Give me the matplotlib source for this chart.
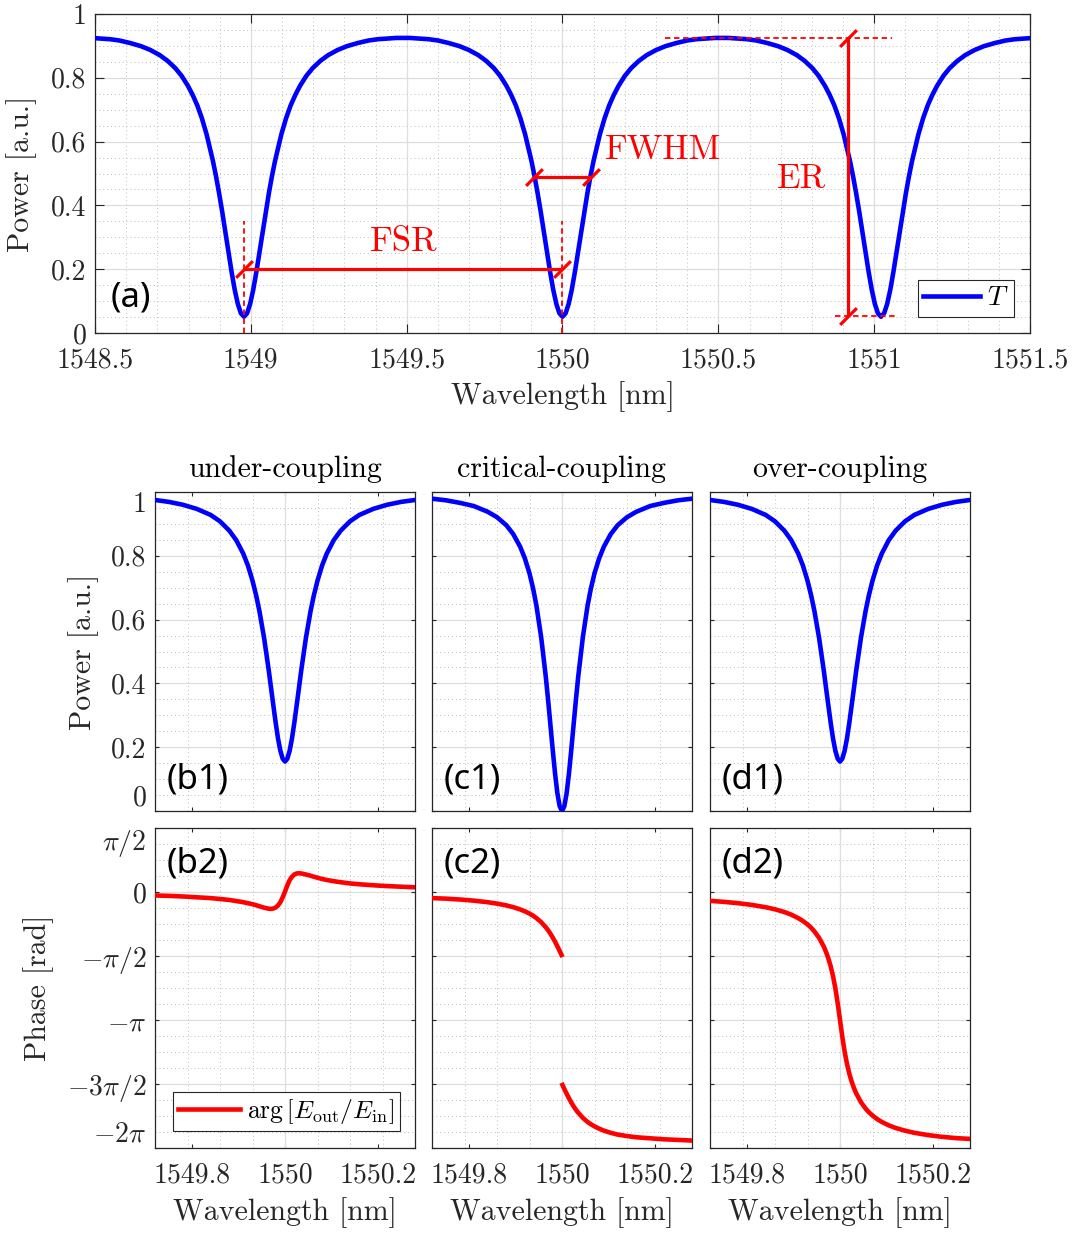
import numpy as np
import matplotlib
matplotlib.use("Agg")
import matplotlib.pyplot as plt
from matplotlib.ticker import MultipleLocator, FixedLocator

plt.rcParams['font.family'] = 'serif'
plt.rcParams['font.serif'] = ['cmr10']
plt.rcParams['mathtext.fontset'] = 'cm'
plt.rcParams['axes.formatter.use_mathtext'] = True

# ---- (a) through-port spectrum: one resonance, found at three dips
dip_centres = [1548.978, 1550.000, 1551.022]
dip_offset = [-0.511, -0.49, -0.46, -0.43, -0.40, -0.365, -0.33, -0.30, -0.27, -0.245,
              -0.22, -0.20, -0.18, -0.165, -0.15, -0.135, -0.12, -0.10, -0.09, -0.08,
              -0.07, -0.06, -0.05, -0.04, -0.03, -0.02, -0.01, 0.0,
              0.01, 0.02, 0.03, 0.04, 0.05, 0.06, 0.07, 0.08, 0.09, 0.10, 0.12, 0.135,
              0.15, 0.165, 0.18, 0.20, 0.22, 0.245, 0.27, 0.30, 0.33, 0.365, 0.40, 0.43,
              0.46, 0.49, 0.511]
dip_power = [0.925, 0.925, 0.923, 0.921, 0.917, 0.909, 0.899, 0.887, 0.871, 0.853,
             0.830, 0.806, 0.775, 0.747, 0.714, 0.673, 0.623, 0.541, 0.493, 0.439,
             0.381, 0.319, 0.255, 0.193, 0.137, 0.092, 0.062, 0.051,
             0.062, 0.092, 0.137, 0.193, 0.255, 0.319, 0.381, 0.439, 0.493, 0.541, 0.623, 0.673,
             0.714, 0.747, 0.775, 0.806, 0.830, 0.853, 0.871, 0.887, 0.899, 0.909, 0.917, 0.921,
             0.923, 0.925, 0.925]
xticks_a = [1548.5, 1549, 1549.5, 1550, 1550.5, 1551, 1551.5]
xticklabels_a = ['1548.5', '1549', '1549.5', '1550', '1550.5', '1551', '1551.5']
yticks_p = [0, 0.2, 0.4, 0.6, 0.8, 1]
yticklabels_p = ['0', '0.2', '0.4', '0.6', '0.8', '1']

# ---- (b)-(d) single resonance around 1550 nm
zoom_centre = 1550.0
zoom_offset = [-0.28, -0.25, -0.22, -0.19, -0.16, -0.14, -0.12, -0.105, -0.09, -0.08,
               -0.07, -0.062, -0.055, -0.045, -0.035, -0.03, -0.025, -0.02, -0.015, -0.01,
               -0.005, 0.0,
               0.005, 0.01, 0.015, 0.02, 0.025, 0.03, 0.035, 0.045, 0.055, 0.062,
               0.07, 0.08, 0.09, 0.105, 0.12, 0.14, 0.16, 0.19, 0.22, 0.25, 0.28]
under_power = [0.975, 0.969, 0.960, 0.947, 0.928, 0.908, 0.879, 0.849, 0.807, 0.770,
               0.722, 0.675, 0.626, 0.542, 0.441, 0.385, 0.330, 0.276, 0.227, 0.189,
               0.164, 0.155,
               0.164, 0.189, 0.227, 0.276, 0.330, 0.385, 0.441, 0.542, 0.626, 0.675,
               0.722, 0.770, 0.807, 0.849, 0.879, 0.908, 0.928, 0.947, 0.960, 0.969, 0.975]
critical_power = [0.979, 0.974, 0.966, 0.956, 0.938, 0.921, 0.896, 0.868, 0.828, 0.792,
                  0.745, 0.696, 0.643, 0.546, 0.422, 0.349, 0.271, 0.192, 0.118, 0.056,
                  0.015, 0.0,
                  0.015, 0.056, 0.118, 0.192, 0.271, 0.349, 0.422, 0.546, 0.643, 0.696,
                  0.745, 0.792, 0.828, 0.868, 0.896, 0.921, 0.938, 0.956, 0.966, 0.974, 0.979]
over_power = [0.975, 0.969, 0.960, 0.947, 0.928, 0.908, 0.879, 0.849, 0.807, 0.770,
              0.722, 0.675, 0.626, 0.542, 0.441, 0.385, 0.330, 0.276, 0.227, 0.189,
              0.164, 0.155,
              0.164, 0.189, 0.227, 0.276, 0.330, 0.385, 0.441, 0.542, 0.626, 0.675,
              0.722, 0.770, 0.807, 0.849, 0.879, 0.908, 0.928, 0.947, 0.960, 0.969, 0.975]
under_phase = [-0.085, -0.095, -0.11, -0.13, -0.15, -0.172, -0.195, -0.222, -0.25, -0.275,
               -0.30, -0.325, -0.35, -0.385, -0.41, -0.415, -0.405, -0.38, -0.33, -0.25,
               -0.13, 0.01,
               0.16, 0.29, 0.375, 0.43, 0.455, 0.46, 0.455, 0.43, 0.40, 0.375,
               0.35, 0.32, 0.295, 0.265, 0.24, 0.21, 0.19, 0.165, 0.145, 0.13, 0.115]
over_phase = [-0.217, -0.242, -0.274, -0.317, -0.374, -0.425, -0.491, -0.556, -0.640, -0.710,
              -0.796, -0.880, -0.969, -1.127, -1.338, -1.473, -1.634, -1.827, -2.067, -2.364,
              -2.728, -3.142,
              -3.555, -3.919, -4.217, -4.456, -4.650, -4.810, -4.945, -5.157, -5.314, -5.403,
              -5.487, -5.573, -5.644, -5.727, -5.792, -5.858, -5.910, -5.967, -6.009, -6.041, -6.060]
# critical coupling: phase jumps by pi at resonance (no sample at the centre)
crit_offset = [-0.28, -0.25, -0.22, -0.19, -0.16, -0.14, -0.12, -0.105, -0.09, -0.08,
               -0.07, -0.062, -0.055, -0.045, -0.035, -0.03, -0.025, -0.02, -0.015, -0.01,
               -0.005, -0.001, 0.0, 0.001,
               0.005, 0.01, 0.015, 0.02, 0.025, 0.03, 0.035, 0.045, 0.055, 0.062,
               0.07, 0.08, 0.09, 0.105, 0.12, 0.14, 0.16, 0.19, 0.22, 0.25, 0.28]
critical_phase = [-0.15, -0.163, -0.184, -0.212, -0.251, -0.285, -0.329, -0.372, -0.428, -0.474,
                  -0.530, -0.584, -0.641, -0.739, -0.864, -0.939, -1.023, -1.117, -1.220, -1.332,
                  -1.449, -1.546, np.nan, -4.737,
                  -4.834, -4.952, -5.063, -5.166, -5.260, -5.344, -5.419, -5.544, -5.643, -5.699,
                  -5.753, -5.809, -5.856, -5.911, -5.954, -5.990, -6.020, -6.045, -6.070, -6.085, -6.100]
xticks_z = [1549.8, 1550, 1550.2]
xticklabels_z = ['1549.8', '1550', '1550.2']
yticks_ph = [np.pi / 2, 0, -np.pi / 2, -np.pi, -3 * np.pi / 2, -2 * np.pi]
yticklabels_ph = [r'$\pi/2$', r'$0$', r'$-\pi/2$', r'$-\pi$', r'$-3\pi/2$', r'$-2\pi$']
titles = ['under-coupling', 'critical-coupling', 'over-coupling']
tags = ['b', 'c', 'd']

INK = '#262626'
W, H = 1075, 1233


def box(l, t, r, b):
    return [l / W, 1 - b / H, (r - l) / W, (b - t) / H]


def style(ax, ticklen):
    ax.tick_params(which='both', direction='in', top=True, right=True,
                   colors=INK, labelsize=20)
    ax.tick_params(which='major', length=ticklen, width=0.8)
    ax.tick_params(which='minor', length=0)
    for s in ax.spines.values():
        s.set_color(INK)
        s.set_linewidth(0.9)
    ax.grid(which='major', color='#dedede', lw=0.9)
    ax.grid(which='minor', color='#bdbdbd', ls=(0, (1, 3)), lw=0.7)
    ax.set_axisbelow(True)


def tag(ax, s, x, y):
    ax.text(x, y, s, transform=ax.transAxes, ha='left', va='center',
            fontsize=25, family='Noto Sans', color='black')


slash = [(-1, -1), (1, 1)]


def measure(ax, x, y):
    ax.plot(x, y, color='red', lw=2.3, solid_capstyle='butt', zorder=4)
    ax.plot(x, y, ls='none', marker=slash, ms=12, mew=2.3, color='red', zorder=4)


def frame(lg):
    lg.get_frame().set_linewidth(0.8)
    lg.get_frame().set_edgecolor(INK)


fig = plt.figure(figsize=(W / 100, H / 100), dpi=100)

# ---------------- (a)
ax = fig.add_axes(box(95, 14, 1030, 333))
style(ax, 6.8)
x_all, y_all = [], []
for c in dip_centres:
    x_all += [c + d for d in dip_offset]
    y_all += dip_power
ax.plot(x_all, y_all, color='blue', lw=3.3, label='$T$', zorder=3)
ax.set_xlim(1548.5, 1551.5)
ax.set_ylim(0, 1)
ax.set_xticks(xticks_a, xticklabels_a)
ax.set_yticks(yticks_p, yticklabels_p)
ax.xaxis.set_minor_locator(MultipleLocator(0.1))
ax.yaxis.set_minor_locator(MultipleLocator(0.05))
ax.tick_params(axis='x', pad=10)
ax.tick_params(axis='y', pad=6)
ax.set_xlabel('Wavelength [nm]', fontsize=21.5, color=INK)
ax.set_ylabel('Power [a.u.]', fontsize=21.5, color=INK)
ax.xaxis.set_label_coords(0.5, -0.15)
ax.yaxis.set_label_coords(-0.062, 0.5)

red_dash = dict(color='red', lw=1.3, ls=(0, (3, 2)), zorder=4)
for c in dip_centres[:2]:
    ax.plot([c, c], [0, 0.35], **red_dash)
measure(ax, [dip_centres[0], dip_centres[1]], [0.2, 0.2])
ax.text(1549.49, 0.286, 'FSR', color='red', fontsize=25, ha='center', va='center')
measure(ax, [1549.91, 1550.09], [0.4875, 0.4875])
ax.text(1550.136, 0.574, 'FWHM', color='red', fontsize=25, ha='left', va='center')
ax.plot([1550.33, 1551.056], [0.925, 0.925], **red_dash)
ax.plot([1550.874, 1551.077], [0.053, 0.053], **red_dash)
measure(ax, [1550.917, 1550.917], [0.053, 0.925])
ax.text(1550.688, 0.482, 'ER', color='red', fontsize=25, ha='left', va='center')
tag(ax, '(a)', 0.017, 0.11)
leg = ax.legend(loc='lower right', bbox_to_anchor=(0.983, 0.05), borderaxespad=0,
                fontsize=20, handlelength=2.05, handletextpad=0.25, borderpad=0.2,
                fancybox=False, framealpha=1)
frame(leg)

# ---------------- (b)-(d)
lefts = [155, 432, 710]
powers = [under_power, critical_power, over_power]
zx = [zoom_centre + d for d in zoom_offset]
cx = [zoom_centre + d for d in crit_offset]
phases = [(zx, under_phase), (cx, critical_phase), (zx, over_phase)]
minor_x = [zoom_centre + 0.07 * k for k in range(-4, 5)]

for i, l in enumerate(lefts):
    a1 = fig.add_axes(box(l, 492, l + 260, 811))
    a2 = fig.add_axes(box(l, 828, l + 260, 1148))
    for a in (a1, a2):
        style(a, 2.6)
        a.set_xlim(zoom_centre - 0.28, zoom_centre + 0.28)
        a.set_xticks(xticks_z, xticklabels_z)
        a.xaxis.set_minor_locator(FixedLocator(minor_x))
        a.xaxis.grid(False, which='major')
        a.axvline(zoom_centre, color='#dedede', lw=0.9, zorder=0.6)
        a.tick_params(axis='y', pad=6)
        a.tick_params(axis='x', pad=10)

    a1.plot(zx, powers[i], color='blue', lw=3.3, zorder=3)
    a1.set_ylim(0, 1)
    a1.set_yticks(yticks_p, yticklabels_p)
    a1.yaxis.set_minor_locator(MultipleLocator(0.05))
    a1.tick_params(axis='x', labelbottom=False)
    a1.set_title(titles[i], fontsize=21.5, color='black', pad=11)
    tag(a1, '(%s1)' % tags[i], 0.045, 0.10)

    px, py = phases[i]
    a2.plot(px, py, color='red', lw=3.3, zorder=3,
            label=r'$\arg\left[E_{\mathrm{out}}/E_{\mathrm{in}}\right]$')
    a2.set_ylim(-2 * np.pi, np.pi / 2)
    a2.set_yticks(yticks_ph, yticklabels_ph)
    a2.yaxis.set_minor_locator(MultipleLocator(np.pi / 8))
    a2.set_xlabel('Wavelength [nm]', fontsize=21.5, color=INK)
    a2.xaxis.set_label_coords(0.5, -0.155)
    tag(a2, '(%s2)' % tags[i], 0.045, 0.89)

    if i == 0:
        a1.set_ylabel('Power [a.u.]', fontsize=21.5, color=INK)
        a1.yaxis.set_label_coords(-0.215, 0.5)
        a2.set_ylabel('Phase [rad]', fontsize=21.5, color=INK)
        a2.yaxis.set_label_coords(-0.39, 0.5)
        # labels at the axis limits sit inside the box, as in the original
        lab1 = a1.get_yticklabels()
        lab1[0].set_va('bottom')
        lab1[-1].set_va('top')
        lab2 = a2.get_yticklabels()
        lab2[0].set_va('top')
        lab2[-1].set_va('bottom')
        lg = a2.legend(loc='lower left', bbox_to_anchor=(0.069, 0.052), borderaxespad=0,
                       fontsize=18.5, handlelength=2.4, handletextpad=0.3, borderpad=0.2,
                       fancybox=False, framealpha=1)
        frame(lg)
    else:
        a1.tick_params(axis='y', labelleft=False)
        a2.tick_params(axis='y', labelleft=False)

fig.savefig('out.png', dpi=100)
